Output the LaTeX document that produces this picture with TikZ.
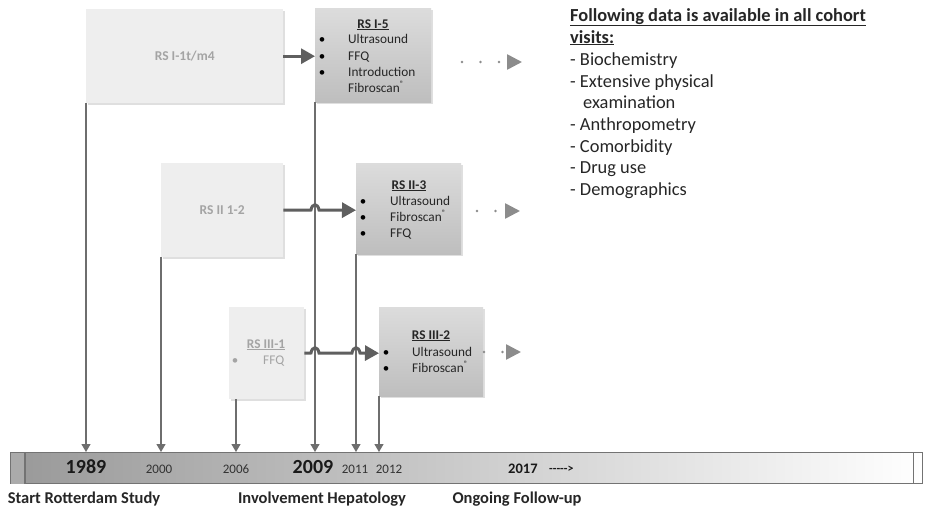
\documentclass[tikz,border=0pt]{standalone}
\usepackage{fontspec}
\setmainfont{Carlito}
\usetikzlibrary{arrows.meta,shadows}
\definecolor{lbox}{HTML}{EEEEEE}
\definecolor{dtop}{HTML}{DCDCDC}
\definecolor{dbot}{HTML}{BEBEBE}
\definecolor{ltxt}{HTML}{A4A4A4}
\definecolor{arr}{HTML}{5F5F5F}
\definecolor{vln}{HTML}{6E6E6E}
\definecolor{dots}{HTML}{8C8C8C}
\newcommand{\regmark}{\raisebox{0.45em}{\fontsize{8}{8}\selectfont ®}}
\tikzset{
  boxshadow/.style={drop shadow={opacity=0.25,shadow xshift=1.5pt,shadow yshift=-1.5pt}},
  lightbox/.style={fill=lbox,draw=none,anchor=north west,boxshadow,inner sep=0pt},
  darkbox/.style={top color=dtop,bottom color=dbot,draw=none,anchor=north west,boxshadow,inner sep=0pt},
  thickarr/.style={draw=arr,line width=3pt,-{Triangle[width=15pt,length=14pt]}},
  vline/.style={draw=vln,line width=1.2pt,-{Triangle[width=9pt,length=8pt]}},
  dotarr/.style={draw=dots,line width=2.6pt,line cap=round,dash pattern=on 0pt off 18.5pt,-{Triangle[width=15pt,length=15pt,sep=0pt]}},
  itm/.style={anchor=base west,font=\fontsize{13.3}{15}\selectfont,inner sep=0pt,text=black!85},
  bul/.style={anchor=base,font=\fontsize{13}{14}\selectfont,inner sep=0pt},
  ttl/.style={anchor=base,font=\fontsize{13.3}{15}\selectfont\bfseries,inner sep=0pt,text=black!85},
  lbtxt/.style={text=ltxt,font=\fontsize{13.5}{15}\selectfont\bfseries},
  yr/.style={anchor=base,font=\fontsize{13}{14}\selectfont,inner sep=0pt,text=black!80},
  yrb/.style={anchor=base,font=\fontsize{20}{22}\selectfont\bfseries,inner sep=0pt,text=black!90},
  lab/.style={anchor=base,font=\fontsize{16.5}{18}\selectfont\bfseries,inner sep=0pt,text=black!85},
  info/.style={anchor=base west,inner sep=0pt,font=\fontsize{18.4}{21.7}\selectfont,text=black!85},
}
\begin{document}
\begin{tikzpicture}[x=1pt,y=-1pt]
\useasboundingbox[fill=white] (0,0) rectangle (926,506);

% boxes
\node[lightbox,minimum width=197pt,minimum height=94pt] (b1) at (86,9) {};
\node[lbtxt] at (b1.center) {RS I-1t/m4};
\node[darkbox,minimum width=116pt,minimum height=94pt] (b2) at (315,8) {};
\node[lightbox,minimum width=122pt,minimum height=94pt] (b3) at (161,163) {};
\node[lbtxt] at (b3.center) {RS II 1-2};
\node[darkbox,minimum width=105pt,minimum height=91pt] (b4) at (356,163) {};
\node[lightbox,minimum width=75pt,minimum height=92pt] (b5) at (229,307) {};
\node[darkbox,minimum width=104pt,minimum height=89pt] (b6) at (379,307) {};

% box texts RS I-5
\node[ttl] at (373,28) {\underline{RS I-5}};
\node[bul] at (322,43) {\textbullet};
\node[bul] at (322,60) {\textbullet};
\node[bul] at (322,76) {\textbullet};
\node[itm] at (348,43) {Ultrasound};
\node[itm] at (348,60) {FFQ};
\node[itm] at (348,76) {Introduction};
\node[itm] at (348,92) {Fibroscan\regmark};
% RS II-3
\node[ttl] at (409,189) {\underline{RS II-3}};
\node[bul] at (363,205) {\textbullet};
\node[bul] at (363,221) {\textbullet};
\node[bul] at (363,237) {\textbullet};
\node[itm] at (390,205) {Ultrasound};
\node[itm] at (390,221) {Fibroscan\regmark};
\node[itm] at (390,237) {FFQ};
% RS III-1
\node[ttl,text=ltxt] at (266,348) {\underline{RS III-1}};
\node[bul,text=ltxt] at (235,364) {\textbullet};
\node[itm,text=ltxt] at (263,364) {FFQ};
% RS III-2
\node[ttl] at (431,339) {\underline{RS III-2}};
\node[bul] at (386,356) {\textbullet};
\node[bul] at (386,372) {\textbullet};
\node[itm] at (412,356) {Ultrasound};
\node[itm] at (412,372) {Fibroscan\regmark};

% timeline bar
\node[anchor=north west,minimum width=912pt,minimum height=31pt,inner sep=0pt,
      left color=black!40,right color=white,draw=black!55,line width=1.1pt] (bar) at (10,452) {};
\fill[black!33] ([xshift=0.6pt,yshift=-0.6pt]bar.north west) rectangle ([xshift=15pt,yshift=0.6pt]bar.south west);
\draw[black!55,line width=1.1pt] ([xshift=15pt]bar.north west) -- ([xshift=15pt]bar.south west);
\draw[black!55,line width=1.1pt] ([xshift=-10pt]bar.north east) -- ([xshift=-10pt]bar.south east);

% vertical arrows
\draw[vline] (b1.south west) -- (b1.south west |- bar.north);
\draw[vline] (b3.south west) -- (b3.south west |- bar.north);
\draw[vline] ([xshift=7pt]b5.south west) -- ([xshift=7pt]b5.south west |- bar.north);
\draw[vline] (b2.south west) -- (b2.south west |- bar.north);
\draw[vline] (b4.south west) -- (b4.south west |- bar.north);
\draw[vline] (b6.south west) -- (b6.south west |- bar.north);

% thick arrows
\draw[thickarr] (b1.east) -- (b2.west |- b1.east);
\draw[thickarr] (b3.east) -- (311,210) .. controls (312,203) and (318,203) .. (319,210) -- (b4.west |- b3.east);
\draw[thickarr] (b5.east) -- (311,353) .. controls (312,346) and (318,346) .. (319,353) -- (352,353) .. controls (353,346) and (359,346) .. (360,353) -- (b6.west |- b5.east);

% dotted arrows
\coordinate (d1) at (462,62);
\coordinate (d1e) at (522,62);
\draw[dotarr] (d1) -- (d1e);
\coordinate (d2) at (477,211);
\coordinate (d2e) at (520,211);
\draw[dotarr] (d2) -- (d2e);
\coordinate (d3) at (484,352);
\coordinate (d3e) at (521,352);
\draw[dotarr] (d3) -- (d3e);

% year labels
\node[yrb] at (86,473) {1989};
\node[yr] at (159,473) {2000};
\node[yr] at (236,473) {2006};
\node[yrb] at (313,473) {2009};
\node[yr] at (355,473) {2011};
\node[yr] at (389,473) {2012};
\node[anchor=base west,font=\fontsize{14.5}{16}\selectfont\bfseries,inner sep=0pt,text=black!90] at (508,473) {2017};
\node[anchor=base west,font=\fontsize{12}{14}\selectfont\bfseries,inner sep=0pt,text=black!90] at (549,472) {-\kern0pt-\kern0pt-\kern0pt-\kern0pt-\kern0pt>};

% bottom labels
\node[lab] at (84,503) {Start Rotterdam Study};
\node[lab] at (322,503) {Involvement Hepatology};
\node[lab] at (517,503) {Ongoing Follow-up};

% right text
\node[info] (i1) at (570,21) {\textbf{\underline{Following data is available in all cohort}}};
\node[info] (i2) at (570,43) {\textbf{\underline{visits:}}};
\node[info] (i3) at (570,65) {- Biochemistry};
\node[info] (i4) at (570,87) {- Extensive physical};
\node[info] (i5) at (583,108) {examination};
\node[info] (i6) at (570,130) {- Anthropometry};
\node[info] (i7) at (570,152) {- Comorbidity};
\node[info] (i8) at (570,173) {- Drug use};
\node[info] (i9) at (570,195) {- Demographics};
\end{tikzpicture}
\end{document}
